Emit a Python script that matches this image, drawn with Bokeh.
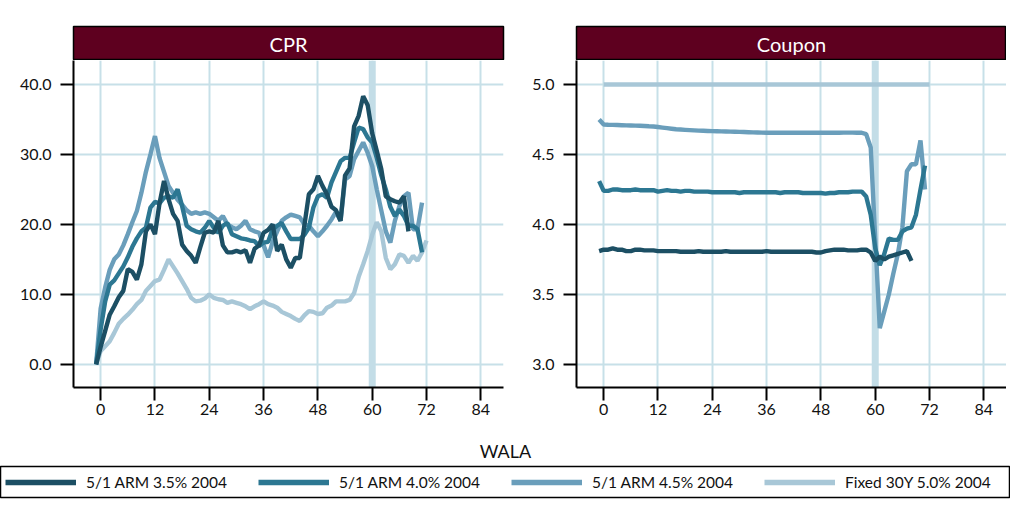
from bokeh.plotting import figure
from bokeh.layouts import column, row
from bokeh.models import Range1d, FixedTicker, Span, Legend, LegendItem, NumeralTickFormatter, Title, Label
from bokeh.embed import file_html
from bokeh.resources import INLINE

# ---------------- data ----------------
series_names = ["5/1 ARM 3.5% 2004", "5/1 ARM 4.0% 2004", "5/1 ARM 4.5% 2004", "Fixed 30Y 5.0% 2004"]
series_colors = ["#1c4f64", "#2c7792", "#6a9ebb", "#a8c7d7"]

wala_arm35 = list(range(-1, 69))
wala_arm40 = list(range(-1, 72))
wala_arm45 = list(range(-1, 72))
wala_fixed = list(range(-1, 73))
wala_fixed_coupon = [0, 72]

cpr_arm35 = [0.0, 2.5, 4.8, 7.1, 8.3, 9.6, 10.5, 13.6, 13.2, 12.1, 14.3, 19.0, 20.0, 18.6, 23.0,
             26.2, 23.6, 21.5, 20.5, 17.1, 16.2, 15.5, 14.5, 16.7, 18.8, 19.0, 18.8, 20.5, 17.0,
             16.0, 16.0, 16.2, 16.0, 16.3, 14.5, 16.5, 17.0, 18.8, 19.2, 20.0, 16.2, 17.1, 15.0,
             13.8, 15.2, 15.2, 19.8, 24.3, 25.0, 26.9, 25.5, 24.3, 22.5, 22.0, 20.5, 27.0, 28.0,
             34.0, 35.5, 38.3, 37.0, 33.0, 30.5, 27.9, 24.0, 23.6, 23.3, 23.1, 24.0, 19.0]
cpr_arm40 = [0.0, 5.0, 9.0, 11.4, 12.0, 13.0, 14.0, 15.3, 16.8, 18.0, 19.0, 19.5, 22.4, 23.2,
             23.0, 23.8, 24.0, 23.8, 25.0, 22.6, 19.8, 19.3, 19.0, 18.8, 19.5, 20.5, 19.5, 18.8,
             19.8, 20.2, 18.6, 18.3, 18.0, 17.9, 17.7, 17.6, 16.9, 17.4, 17.5, 19.3, 19.8, 20.2,
             19.0, 17.9, 17.9, 17.9, 18.5, 19.5, 22.4, 24.0, 24.3, 23.8, 26.0, 27.5, 29.0, 29.5,
             29.5, 31.7, 33.8, 33.6, 32.4, 31.7, 29.5, 27.0, 25.0, 22.5, 21.2, 22.1, 21.2, 19.8,
             19.8, 19.3, 16.0]
cpr_arm45 = [0.0, 8.0, 11.0, 13.5, 15.0, 15.7, 17.0, 18.6, 20.3, 21.9, 24.5, 27.5, 30.0, 32.6,
             29.5, 27.5, 25.5, 24.5, 23.5, 22.8, 22.0, 21.5, 21.7, 21.5, 21.7, 21.5, 21.0, 20.5,
             21.2, 20.0, 19.6, 19.3, 19.8, 20.5, 19.3, 19.0, 18.8, 17.0, 15.3, 17.5, 19.0, 20.5,
             21.0, 21.4, 21.2, 21.0, 20.0, 19.8, 19.0, 18.3, 19.0, 19.8, 20.7, 21.8, 20.5, 26.4,
             26.9, 29.3, 30.5, 31.7, 30.2, 28.3, 25.0, 22.0, 19.0, 17.4, 20.5, 22.6, 24.0, 24.5,
             19.3, 19.3, 23.1]
cpr_fixed = [0.0, 1.9, 2.6, 3.3, 4.5, 5.8, 6.5, 7.1, 7.8, 8.6, 9.2, 10.5, 11.2, 11.9, 12.1,
             13.5, 15.0, 14.0, 13.0, 11.9, 10.8, 9.5, 9.0, 9.1, 9.4, 10.0, 9.5, 9.3, 9.2, 8.8,
             9.0, 8.8, 8.6, 8.3, 7.9, 8.3, 8.6, 9.0, 8.6, 8.4, 8.1, 7.5, 7.2, 6.9, 6.5, 6.2, 7.0,
             7.6, 7.5, 7.2, 7.3, 8.1, 8.4, 9.0, 9.0, 9.0, 9.2, 10.2, 12.5, 14.3, 16.2, 18.5, 20.3,
             19.0, 15.2, 13.6, 14.3, 15.7, 15.5, 14.5, 15.5, 14.8, 16.0, 17.7]

coupon_arm35 = [3.81, 3.82, 3.82, 3.83, 3.82, 3.82, 3.81, 3.81, 3.82, 3.82, 3.815, 3.815, 3.815,
                3.81, 3.81, 3.81, 3.81, 3.81, 3.805, 3.805, 3.805, 3.805, 3.81, 3.805, 3.805,
                3.805, 3.805, 3.805, 3.81, 3.805, 3.805, 3.805, 3.805, 3.805, 3.805, 3.805, 3.805,
                3.81, 3.805, 3.805, 3.805, 3.805, 3.805, 3.805, 3.805, 3.805, 3.805, 3.805, 3.80,
                3.80, 3.81, 3.815, 3.82, 3.82, 3.82, 3.815, 3.815, 3.815, 3.82, 3.82, 3.80, 3.74,
                3.77, 3.75, 3.77, 3.78, 3.79, 3.80, 3.81, 3.74]
coupon_arm40 = [4.31, 4.24, 4.24, 4.25, 4.25, 4.245, 4.245, 4.245, 4.25, 4.245, 4.245, 4.245,
                4.245, 4.235, 4.24, 4.245, 4.24, 4.24, 4.235, 4.24, 4.24, 4.235, 4.235, 4.235,
                4.235, 4.23, 4.23, 4.23, 4.23, 4.23, 4.23, 4.225, 4.23, 4.23, 4.23, 4.23, 4.23,
                4.23, 4.23, 4.23, 4.225, 4.23, 4.23, 4.23, 4.23, 4.225, 4.225, 4.225, 4.225, 4.225,
                4.22, 4.225, 4.225, 4.23, 4.23, 4.23, 4.235, 4.235, 4.235, 4.20, 4.07, 3.83, 3.71,
                3.79, 3.90, 3.89, 3.89, 3.95, 3.97, 3.98, 4.07, 4.25, 4.42]
coupon_arm45 = [4.75, 4.714, 4.712, 4.711, 4.710, 4.709, 4.708, 4.707, 4.706, 4.705, 4.703,
                4.701, 4.70, 4.696, 4.692, 4.688, 4.684, 4.680, 4.678, 4.676, 4.674, 4.672, 4.670,
                4.669, 4.668, 4.667, 4.666, 4.665, 4.664, 4.663, 4.662, 4.661, 4.660, 4.659,
                4.658, 4.657, 4.656, 4.655, 4.655, 4.655, 4.655, 4.655, 4.655, 4.655, 4.655,
                4.655, 4.655, 4.655, 4.655, 4.655, 4.655, 4.655, 4.655, 4.655, 4.656, 4.656,
                4.656, 4.655, 4.655, 4.645, 4.55, 3.90, 3.26, 3.38, 3.50, 3.65, 3.79, 3.98, 4.38,
                4.43, 4.43, 4.60, 4.25]
coupon_fixed = [5.0, 5.0]

wala_ticks = [0, 12, 24, 36, 48, 60, 72, 84]
cpr_ticks = [0, 10, 20, 30, 40]
coupon_ticks = [3.0, 3.5, 4.0, 4.5, 5.0]
highlight_wala = 60

# ---------------- style ----------------
FONT = "Lato"
HEADER_FILL = "#5e001f"
GRID = "#c7e0e8"
BAND = "#c3dde7"
TXT = "#111111"
LW = 4.4


def header(text, left, right, width):
    h = figure(frame_width=width, frame_height=34, min_border_left=left, min_border_right=right,
               min_border_top=26, min_border_bottom=0, x_range=Range1d(0, 1), y_range=Range1d(0, 1),
               x_axis_location=None, y_axis_location=None, toolbar_location=None,
               output_backend="svg", title=None, background_fill_color=HEADER_FILL,
               border_fill_color="white", outline_line_color="black", outline_line_width=1.5)
    h.grid.visible = False
    h.add_layout(Label(x=0.5, y=0.5, text=text, text_align="center", text_baseline="middle",
                       text_color="white", text_font=FONT, text_font_size="20px"))
    return h


def panel(left, right, width, yr, yticks):
    p = figure(frame_width=width, frame_height=327, min_border_left=left, min_border_right=right,
               min_border_top=0, min_border_bottom=40, x_range=Range1d(-6, 89),
               y_range=Range1d(*yr), toolbar_location=None, output_backend="svg", title=None,
               outline_line_color=None, border_fill_color="white", background_fill_color="white")
    p.xaxis.ticker = FixedTicker(ticks=wala_ticks)
    p.yaxis.ticker = FixedTicker(ticks=yticks)
    p.xgrid.ticker = FixedTicker(ticks=wala_ticks)
    p.ygrid.ticker = FixedTicker(ticks=yticks)
    p.yaxis.formatter = NumeralTickFormatter(format="0.0")
    for ax in p.axis:
        ax.axis_line_color = "black"
        ax.axis_line_width = 2
        ax.major_tick_line_color = "black"
        ax.major_tick_line_width = 2
        ax.major_tick_out = 13
        ax.major_tick_in = 0
        ax.minor_tick_out = 0
        ax.minor_tick_in = 0
        ax.major_label_text_font = FONT
        ax.major_label_text_font_size = "16px"
        ax.major_label_text_color = TXT
    p.xaxis.major_label_standoff = 3
    p.yaxis.major_label_standoff = 9
    p.grid.grid_line_color = GRID
    p.grid.grid_line_width = 2
    p.add_layout(Span(location=highlight_wala, dimension="height", line_color=BAND,
                      line_width=7, level="underlay"))
    return p


# CPR panel
h1 = header("CPR", 73, 5, 430)
p1 = panel(73, 5, 430, (-3.3, 43.4), cpr_ticks)
p1.line(wala_fixed, cpr_fixed, line_color=series_colors[3], line_width=LW)
p1.line(wala_arm45, cpr_arm45, line_color=series_colors[2], line_width=LW)
p1.line(wala_arm40, cpr_arm40, line_color=series_colors[1], line_width=LW)
p1.line(wala_arm35, cpr_arm35, line_color=series_colors[0], line_width=LW)

# Coupon panel
h2 = header("Coupon", 68, 0, 430)
p2 = panel(68, 0, 430, (2.836, 5.171), coupon_ticks)
p2.line(wala_fixed_coupon, coupon_fixed, line_color=series_colors[3], line_width=LW)
p2.line(wala_arm45, coupon_arm45, line_color=series_colors[2], line_width=LW)
p2.line(wala_arm40, coupon_arm40, line_color=series_colors[1], line_width=LW)
p2.line(wala_arm35, coupon_arm35, line_color=series_colors[0], line_width=LW)

# Bottom: axis title + legend box (legend samples reuse the series, drawn off-frame)
b = figure(frame_width=1010, frame_height=31, min_border_left=0, min_border_right=0,
           min_border_top=39, min_border_bottom=2, x_range=Range1d(500, 501), y_range=Range1d(0, 1),
           x_axis_location=None, y_axis_location=None, toolbar_location=None,
           output_backend="svg", title=None, outline_line_color="black", outline_line_width=1.5,
           border_fill_color="white")
b.grid.visible = False
b.add_layout(Title(text="WALA", align="center", text_font=FONT, text_font_size="18px",
                   text_font_style="normal", text_color=TXT, standoff=10), "above")
items = []
for name, col, xs, ys in zip(series_names, series_colors,
                             [wala_arm35, wala_arm40, wala_arm45, wala_fixed],
                             [cpr_arm35, cpr_arm40, cpr_arm45, cpr_fixed]):
    r = b.line(x=xs, y=ys, line_color=col, line_width=5.5)
    items.append(LegendItem(label=name, renderers=[r]))
leg = Legend(items=items, orientation="horizontal", location="center_left",
             border_line_color=None, background_fill_alpha=0, glyph_width=71, glyph_height=20,
             label_standoff=10, spacing=31, padding=0, margin=5,
             label_text_font=FONT, label_text_font_size="15.5px", label_text_color=TXT)
b.add_layout(leg)

layout = column(row(column(h1, p1), column(h2, p2)), b)
open("out.html", "w").write(file_html(layout, INLINE))
